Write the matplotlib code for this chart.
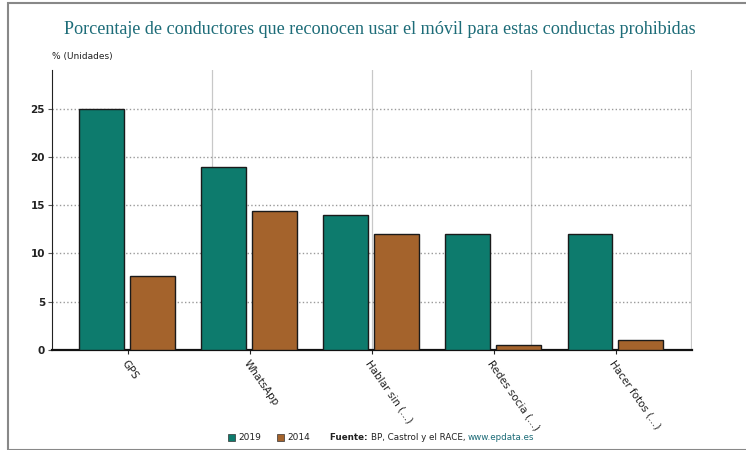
import matplotlib
matplotlib.use('Agg')
import matplotlib.pyplot as plt
from matplotlib.patches import Rectangle

categories = ['GPS', 'WhatsApp', 'Hablar sin (...)', 'Redes socia (...)', 'Hacer fotos (...)']
v2019 = [25, 19, 14, 12, 12]
v2014 = [7.7, 14.4, 12, 0.5, 1]

teal = '#0d7b6d'
brown = '#a4632c'

fig = plt.figure(figsize=(7.46, 4.5), dpi=100)
ax = fig.add_axes([52 / 746, 1 - 350 / 450, 640 / 746, 280 / 450])

x = list(range(len(categories)))
w = 0.368
ax.bar([i - 0.215 for i in x], v2019, width=w, color=teal, edgecolor='#1a1a1a', linewidth=1.0, zorder=3)
ax.bar([i + 0.2 for i in x], v2014, width=w, color=brown, edgecolor='#1a1a1a', linewidth=1.0, zorder=3)

ax.set_xlim(-0.62, 4.62)
ax.set_ylim(0, 29)
ax.set_yticks([0, 5, 10, 15, 20, 25])
ax.set_xticks(x)
ax.set_xticklabels(categories, rotation=-55, ha='left', va='top', rotation_mode='anchor',
                   fontsize=7.5, color='#222222')
for lab in ax.get_yticklabels():
    lab.set_fontsize(7.5)
    lab.set_color('#222222')
    lab.set_fontweight('bold')

ax.grid(axis='y', linestyle=':', color='#9a9a9a', linewidth=1.0, zorder=0)
for gx in [(212 - 128) / 122.25, 2.0, (532 - 128) / 122.25, (692 - 128) / 122.25]:
    ax.axvline(gx, color='#c8c8c8', linestyle='-', linewidth=0.9, zorder=0)

for s in ['top', 'right']:
    ax.spines[s].set_visible(False)
ax.spines['left'].set_color('#222222')
ax.spines['bottom'].set_color('#111111')
ax.spines['bottom'].set_linewidth(1.6)
ax.tick_params(axis='y', length=3, color='#555555', pad=2)
ax.tick_params(axis='x', length=3, color='#222222', pad=3)

fig.text(380 / 746, 1 - 30 / 450, 'Porcentaje de conductores que reconocen usar el móvil para estas conductas prohibidas',
         ha='center', va='center', fontsize=13.1, family='Liberation Serif', color='#1d6c78')
fig.text(52 / 746, 1 - 57 / 450, '% (Unidades)', ha='left', va='center', fontsize=6.5, color='#222222')

# legend / source
fig.patches.append(Rectangle((228 / 746, 1 - 441 / 450), 7 / 746, 7 / 450, transform=fig.transFigure,
                             facecolor=teal, edgecolor='#333333', linewidth=0.5))
fig.text(238 / 746, 1 - 437 / 450, '2019', ha='left', va='center', fontsize=6.5, color='#222222')
fig.patches.append(Rectangle((277 / 746, 1 - 441 / 450), 7 / 746, 7 / 450, transform=fig.transFigure,
                             facecolor=brown, edgecolor='#333333', linewidth=0.5))
fig.text(287 / 746, 1 - 437 / 450, '2014', ha='left', va='center', fontsize=6.5, color='#222222')

renderer = fig.canvas.get_renderer()
xpos = 330
parts = [('Fuente: ', 'bold', '#222222'), ('BP, Castrol y el RACE, ', 'normal', '#222222'),
         ('www.epdata.es', 'normal', '#1d6c78')]
for txt, wt, col in parts:
    t = fig.text(xpos / 746, 1 - 437 / 450, txt, ha='left', va='center', fontsize=6.3,
                 fontweight=wt, color=col)
    xpos += t.get_window_extent(renderer).width

# outer border
fig.patches.append(Rectangle((8 / 746, 0), 1, 1 - 3 / 450, transform=fig.transFigure,
                             facecolor='none', edgecolor='#888888', linewidth=1.5))

fig.savefig('out.png', dpi=100)
